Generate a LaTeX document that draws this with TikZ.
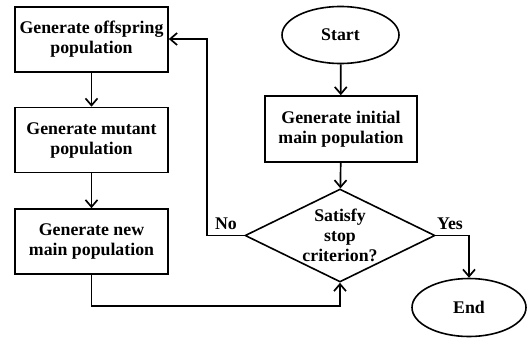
\documentclass[tikz,border=0pt]{standalone}
\usepackage{fontspec}
\setmainfont{Liberation Serif}[BoldFont={Liberation Serif Bold}]
\usetikzlibrary{shapes.geometric,arrows.meta}
\begin{document}
\begin{tikzpicture}[x=1pt,y=-1pt,
  every node/.style={font=\fontsize{17.8}{20}\selectfont\bfseries, align=center, inner sep=0pt},
  box/.style={draw, line width=1.6pt, minimum width=#1, minimum height=65},
  term/.style={draw, ellipse, line width=1.6pt, minimum width=117, minimum height=57},
  dec/.style={draw, diamond, line width=1.6pt, minimum width=190, minimum height=93, aspect=2},
  conn/.style={line width=1.7pt, -{Straight Barb[length=7pt,width=12pt,line width=1.7pt]}},
  lbl/.style={font=\fontsize{17.8}{20}\selectfont\bfseries}]
\useasboundingbox (0,0) rectangle (527,338);
\node[box=153] (off) at (91.5,39.5) {Generate offspring\\population};
\node[box=153] (mut) at (91.5,140) {Generate mutant\\population};
\node[box=153] (new) at (91.5,241.5) {Generate new\\main population};
\node[term] (start) at (340.5,35) {Start};
\node[box=152,minimum height=66] (init) at (341,129) {Generate initial\\main population};
\node[dec] (sat) at (340,235.5) {Satisfy\\stop\\criterion?};
\node[term,minimum width=114,minimum height=58] (end) at (469,307.5) {End};
\coordinate (nocorner) at (207,235.5);
\coordinate (notop) at (207,39);
\coordinate (botl) at (91.5,306);
\coordinate (botr) at (340,306);
\coordinate (yescorner) at (469,235.5);
\draw[conn] (start) -- (init);
\draw[conn] (init) -- (sat);
\draw[conn] (off) -- (mut);
\draw[conn] (mut) -- (new);
\draw[conn] (sat.west) -- (nocorner) -- (notop) -- (off.east |- notop);
\draw[conn] (new.south) -- (botl) -- (botr) -- (sat.south);
\draw[conn] (sat.east) -- (yescorner) -- (end.north);
\node[lbl] (no) at (226,224) {No};
\node[lbl] (yes) at (450,224) {Yes};
\end{tikzpicture}
\end{document}
